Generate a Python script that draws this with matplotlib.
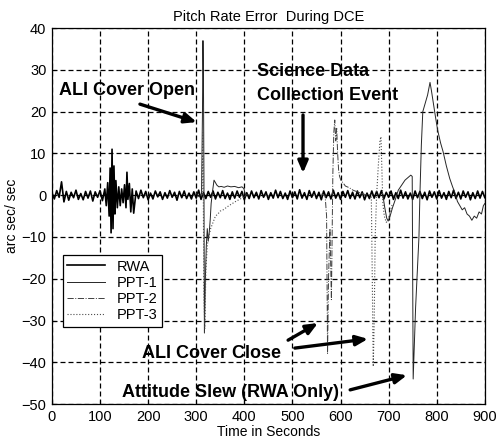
import numpy as np
import matplotlib
matplotlib.use('Agg')
import matplotlib.pyplot as plt

plt.rcParams['font.family'] = ['Liberation Sans', 'DejaVu Sans']

###########                 Data                 ###########
#----------------------------------------------------------#
# RWA : baseline noise band + early burst around t = 125 s
rwa_t = np.r_[np.arange(0, 115, 5),
              [113, 116, 119, 121, 123, 125, 127, 129, 131, 133, 136, 139,
               142, 145, 148, 151, 154, 156, 158, 161, 164, 167, 170],
              np.arange(175, 905, 5)]
rwa_v = np.array([
    0.6, -0.9, 1.1, -0.5, 3.2, -1.6, 0.9, -1.2, 0.7, -0.6,
    1.2, -1.0, 0.4, -1.1, 0.9, -0.7, 1.0, -1.4, 0.8, -0.5,
    1.1, -1.3, 1.5,
    # burst
    -2.5, 3.0, -5.0, 6.5, -9.0, 11.0, -8.0, 7.0, -4.5, 3.5, -3.0, 2.0,
    -2.5, 1.5, -1.8, 2.5, -3.0, 5.5, -1.0, 2.8, -4.0, 1.5, -4.3,
    # 175 .. 900
    1.0, -0.8, 1.2, -0.6, 0.9, -1.1, 0.5, -0.9, 1.0, -0.4,
    0.8, -1.0, 0.6, -0.7, 1.1, -0.5, 0.7, -1.2, 0.9, -0.6,
    1.0, -0.8, 0.5, -0.9, 0.8, -0.7, 1.2, -1.0, 0.6, -0.8,
    0.9, -0.5, 1.0, -0.9, 0.7, -0.6, 1.1, -0.8, 0.5, -1.0,
    0.8, -0.7, 1.0, -0.5, 0.9, -1.1, 0.6, -0.8, 1.0, -0.6,
    0.7, -0.9, 1.1, -0.5, 0.8, -1.0, 0.6, -0.7, 1.2, -0.6,
    0.9, -0.8, 0.5, -1.0, 1.0, -0.6, 0.8, -0.9, 1.3, -0.7,
    0.6, -1.0, 1.1, -0.5, 0.9, -0.8, 0.7, -1.1, 1.0, -0.6,
    0.8, -0.9, 1.2, -0.7, 0.6, -1.0, 0.9, -0.5, 1.1, -0.8,
    0.7, -0.9, 1.0, -0.6, 0.8, -1.1, 0.5, -0.8, 1.0, -0.7,
    0.9, -0.6, 1.1, -0.9, 0.7, -0.5, 1.0, -1.0, 0.6, -0.8,
    1.2, -0.7, 0.8, -0.9, 0.5, -1.0, 1.0, -0.6, 0.9, -0.8,
    0.7, -1.1, 1.0, -0.5, 0.8, -0.9, 1.1, -0.7, 0.6, -1.0,
    0.9, -0.6, 1.2, -0.8, 0.7, -0.9, 1.0, -0.5, 0.8, -1.1,
    0.6, -0.8, 1.0, -0.7, 0.9, -0.6])

# PPT-1 : ALI cover open transient + attitude slew response
ppt1_t = [300, 306, 311, 313, 314, 315, 316, 317, 319, 321, 323, 325, 327,
          329, 331, 334, 337, 340, 343, 347, 352, 358, 365, 372, 380, 388,
          395, 399, 402, 410, np.nan,
          688, 692, 696, 699, 703, 708, 714, 720, 727, 734, 741, 746, 749,
          751, 756, 763, 765, 768, 771, 776, 781, 786, 789, 793, 797, 802,
          808, 813, 820, 827, 833, 838, 843, 848, 853, 858, 863, 868, 873,
          878, 883, 888, 893, 897, 900]
ppt1_v = [0.5, -0.4, 0.3, 20, 37, 28, 5, -33, -20, -12, -8, -11, -9,
          -6, -2, 1, 3.6, 3.0, 2.4, 2.0, 2.1, 1.9, 2.2, 2.0, 2.1, 1.8,
          2.0, 1.6, 0.2, 0.0, np.nan,
          0.0, -3.0, -5.5, -6.2, -5.0, -3.0, -1.0, 1.2, 2.4, 3.6, 4.3, 4.8, 4.5,
          -44, -27, -10, 0.0, 12, 20, 22, 24, 27, 25, 22, 19, 15.5,
          12.5, 10.5, 7, 4, 2, 0.5, -1.5, -2.5, -3.5, -3.0, -4.5, -5.0, -6.0,
          -5.0, -5.5, -4.0, -4.5, -2.5, -2.0]

# PPT-2 : first ALI cover close event
ppt2_t = [560, 568, 571, 573, 575, 578, 581, 584, 586, 588, 590, 592, 594,
          596, 598, 601, 605, 610, 618, 626, 635, 645, 655]
ppt2_v = [0.3, -0.2, -5, -38, -20, -8, -25, 5, 15, 18, 13, 16, 10,
          6, 4.5, 3.5, 3.0, 2.2, 1.8, 1.2, 0.8, 0.4, 0.0]

# PPT-3 : ALI cover open recovery + second ALI cover close event
ppt3_t = [312, 314, 316, 318, 320, 323, 326, 330, 335, 340, 345, 350, 356,
          362, 368, 375, 382, 390, 398, 405, np.nan,
          660, 664, 666, 668, 670, 672, 675, 679, 682, 684, 686, 688, 691,
          695, 699, 703, 708]
ppt3_v = [0, 15, -25, -32, -18, -12, -10, -8, -6.5, -5, -4.5, -3.8, -3.5,
          -3, -2.5, -2, -1.5, -1, -0.5, 0, np.nan,
          0.2, -0.3, -20, -41, -30, -10, 0, 8, 13, 14, 6, -2, -5,
          -6.5, -6, -4, -2]

x_ticks = np.arange(0, 1000, 100)
y_ticks = np.arange(-50, 50, 10)

###########                 Figure               ###########
#----------------------------------------------------------#
fig = plt.figure(figsize=(5.04, 4.46), dpi=100)
ax = fig.add_axes([0.103, 0.094, 0.859, 0.843])

ax.plot(rwa_t, rwa_v, color='k', lw=1.2, label='RWA')
ax.plot(ppt1_t, ppt1_v, color='0.15', lw=0.7, label='PPT-1')
ax.plot(ppt2_t, ppt2_v, color='0.25', lw=0.7, ls='-.', label='PPT-2')
ax.plot(ppt3_t, ppt3_v, color='0.3', lw=0.8, ls=':', label='PPT-3')

ax.set_xlim(0, 900)
ax.set_ylim(-50, 40)
ax.set_xticks(x_ticks)
ax.set_yticks(y_ticks)
ax.tick_params(direction='in', length=3, labelsize=10.5, pad=4)
ax.grid(True, color='k', ls=(0, (4, 2.4)), lw=0.9)
ax.set_axisbelow(True)
for s in ax.spines.values():
    s.set_linewidth(0.9)

ax.set_title('Pitch Rate Error  During DCE', fontsize=10.5, pad=5)
ax.set_xlabel('Time in Seconds', fontsize=10, labelpad=1)
ax.set_ylabel('arc sec/ sec', fontsize=10, labelpad=2)

leg = ax.legend(loc='upper left', bbox_to_anchor=(0.025, 0.396),
                borderaxespad=0, fontsize=10.5, fancybox=False,
                edgecolor='k', framealpha=1, handlelength=2.6,
                labelspacing=0.15, borderpad=0.3)
leg.get_frame().set_linewidth(0.9)

# Annotations
bold = dict(fontsize=13, fontweight='bold', va='baseline', ha='left')
ax.text(14.6, 24.0, 'ALI Cover Open', **bold)
ax.text(426, 28.5, 'Science Data', **bold)
ax.text(426, 22.8, 'Collection Event', **bold)
ax.text(187, -39.0, 'ALI Cover Close', **bold)
ax.text(145.5, -48.3, 'Attitude Slew (RWA Only)', **bold)

arrow = dict(arrowstyle='-|>,head_length=0.7,head_width=0.3', lw=2.4,
             color='k', shrinkA=0, shrinkB=0)
ax.annotate('', xy=(301, 17.5), xytext=(183, 21.8), arrowprops=arrow)
ax.annotate('', xy=(522, 5.3), xytext=(522, 19.2), arrowprops=arrow)
ax.annotate('', xy=(553, -30.6), xytext=(491, -34.7), arrowprops=arrow)
ax.annotate('', xy=(657, -34.4), xytext=(505, -36.6), arrowprops=arrow)
ax.annotate('', xy=(738, -43.1), xytext=(620, -46.6), arrowprops=arrow)

fig.savefig('out.png', dpi=100)
